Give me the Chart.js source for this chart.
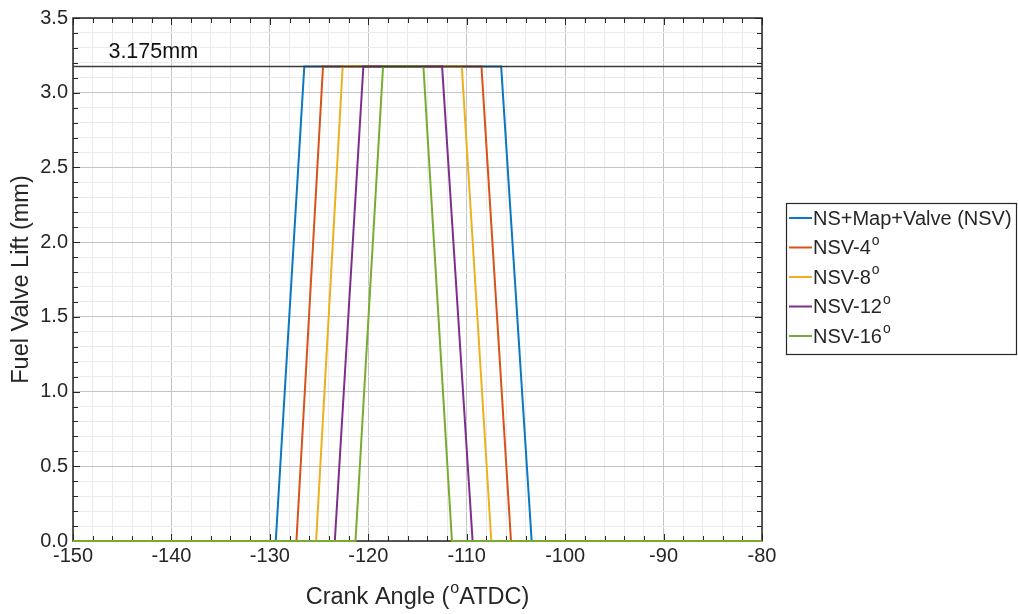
<!DOCTYPE html>
<html>
<head>
<meta charset="utf-8">
<script src="https://cdn.jsdelivr.net/npm/chart.js@4.4.0/dist/chart.umd.min.js"></script>
<style>
  html, body { margin: 0; padding: 0; background: #fff; }
  #wrap { width: 1018px; height: 614px; position: relative; }
</style>
</head>
<body>
<div id="wrap"><canvas id="lift-chart"></canvas></div>
<script>
'use strict';

// series
const seriesLabels = ['NS+Map+Valve (NSV)', 'NSV-4', 'NSV-8', 'NSV-12', 'NSV-16'];
const seriesSup = ['', 'o', 'o', 'o', 'o'];
const seriesColors = ['#0a78c2', '#d95319', '#edb120', '#7e2f8e', '#77ac30'];

// lift (mm) at each breakpoint, shared by all series
const liftValues = [0, 0, 3.175, 3.175, 0, 0];
// crank angle (deg ATDC) of each breakpoint
const nsvAngles = [-150, -129.4, -126.5, -106.5, -103.4, -80];
const nsv4Angles = [-150, -127.3, -124.6, -108.5, -105.5, -80];
const nsv8Angles = [-150, -125.3, -122.6, -110.5, -107.5, -80];
const nsv12Angles = [-150, -123.4, -120.5, -112.5, -109.4, -80];
const nsv16Angles = [-150, -121.3, -118.5, -114.4, -111.5, -80];
const seriesAngles = [nsvAngles, nsv4Angles, nsv8Angles, nsv12Angles, nsv16Angles];

// reference line
const refLift = 3.175;
const refAngles = [-150, -80];
const refLabel = '3.175mm';
const refLabelPos = { x: -146.4, y: 3.27 };

const TEXT = '#262626';
const FONT = '"Liberation Sans", Arial, sans-serif';

function isMultiple(v, step) {
  const q = v / step;
  return Math.abs(q - Math.round(q)) < 1e-6;
}

// text with a small raised "o"
function drawSupText(ctx, parts, x, y, size) {
  ctx.font = size + 'px ' + FONT;
  ctx.textBaseline = 'middle';
  ctx.textAlign = 'left';
  let cx = x;
  ctx.fillText(parts[0], cx, y);
  cx += ctx.measureText(parts[0]).width;
  if (parts[1]) {
    ctx.font = Math.round(size * 0.7) + 'px ' + FONT;
    ctx.fillText(parts[1], cx + 1, y - size * 0.38);
    cx += ctx.measureText(parts[1]).width + 1;
    ctx.font = size + 'px ' + FONT;
  }
  if (parts[2]) ctx.fillText(parts[2], cx, y);
}

function textWidth(ctx, parts, size) {
  ctx.font = size + 'px ' + FONT;
  let w = ctx.measureText(parts[0]).width;
  if (parts[2]) w += ctx.measureText(parts[2]).width;
  if (parts[1]) {
    ctx.font = Math.round(size * 0.7) + 'px ' + FONT;
    w += ctx.measureText(parts[1]).width + 1;
  }
  return w;
}

// box and inward ticks on all four sides, plus label, x title and legend
const axesBox = {
  id: 'axesBox',
  beforeDatasetsDraw(chart) {
    const ctx = chart.ctx;
    const a = chart.chartArea;
    const xs = chart.scales.x;
    const ys = chart.scales.y;
    ctx.save();
    ctx.strokeStyle = TEXT;
    ctx.lineWidth = 1;
    xs.ticks.forEach(function (t) {
      const px = Math.round(xs.getPixelForValue(t.value)) + 0.5;
      const len = isMultiple(t.value, 10) ? 7 : 5;
      ctx.beginPath();
      ctx.moveTo(px, a.bottom); ctx.lineTo(px, a.bottom - len);
      ctx.moveTo(px, a.top); ctx.lineTo(px, a.top + len);
      ctx.stroke();
    });
    ys.ticks.forEach(function (t) {
      const py = Math.round(ys.getPixelForValue(t.value)) + 0.5;
      const len = isMultiple(t.value, 0.5) ? 7 : 5;
      ctx.beginPath();
      ctx.moveTo(a.left, py); ctx.lineTo(a.left + len, py);
      ctx.moveTo(a.right, py); ctx.lineTo(a.right - len, py);
      ctx.stroke();
    });
    ctx.lineWidth = 1.5;
    ctx.strokeRect(a.left, a.top, a.right - a.left, a.bottom - a.top);
    ctx.restore();
  },
  afterDraw(chart) {
    const ctx = chart.ctx;
    const a = chart.chartArea;
    const xs = chart.scales.x;
    const ys = chart.scales.y;
    ctx.save();
    ctx.fillStyle = '#111';
    ctx.font = '21.5px ' + FONT;
    ctx.textBaseline = 'middle';
    ctx.textAlign = 'left';
    ctx.fillText(refLabel, xs.getPixelForValue(refLabelPos.x), ys.getPixelForValue(refLabelPos.y));

    // x axis title
    ctx.fillStyle = TEXT;
    const title = ['Crank Angle (', 'o', 'ATDC)'];
    const w = textWidth(ctx, title, 23.5);
    drawSupText(ctx, title, (a.left + a.right) / 2 - w / 2, 598, 23.5);

    // legend
    const lx = 786, ly = 203, lw = 230, lh = 151;
    ctx.fillStyle = '#fff';
    ctx.fillRect(lx, ly, lw, lh);
    ctx.strokeStyle = TEXT;
    ctx.lineWidth = 1.2;
    ctx.strokeRect(lx + 0.5, ly + 0.5, lw, lh);
    seriesLabels.forEach(function (label, i) {
      const y = ly + 15 + i * 29.5;
      ctx.strokeStyle = seriesColors[i];
      ctx.lineWidth = 2;
      ctx.beginPath();
      ctx.moveTo(lx + 3, y); ctx.lineTo(lx + 26, y);
      ctx.stroke();
      ctx.fillStyle = TEXT;
      drawSupText(ctx, [label, seriesSup[i], ''], lx + 27, y + 1, 20);
    });
    ctx.restore();
  }
};

const datasets = seriesAngles.map(function (angles, i) {
  return {
    label: seriesLabels[i],
    data: angles.map(function (a, k) { return { x: a, y: liftValues[k] }; }),
    borderColor: seriesColors[i],
    borderWidth: 2,
    pointRadius: 0,
    tension: 0,
    fill: false,
    clip: 4,
    order: seriesLabels.length - i + 1,
  };
});
datasets.push({
  label: 'ref',
  data: refAngles.map(function (a) { return { x: a, y: refLift }; }),
  borderColor: '#3a3a3a',
  borderWidth: 1.6,
  pointRadius: 0,
  fill: false,
  order: 0,
});

new Chart(document.getElementById('lift-chart'), {
  type: 'line',
  data: { datasets: datasets },
  options: {
    responsive: true,
    maintainAspectRatio: false,
    animation: false,
    layout: { padding: { left: 0, right: 256, top: 18, bottom: 0 } },
    plugins: {
      legend: { display: false },
      tooltip: { enabled: false },
    },
    scales: {
      x: {
        type: 'linear',
        min: -150,
        max: -80,
        afterFit: function (s) { s.height = 73; },
        border: { display: false },
        grid: {
          drawTicks: false,
          color: function (c) {
            return isMultiple(c.tick.value, 10) ? '#c4c4c4' : '#ebebeb';
          },
        },
        ticks: {
          stepSize: 2,
          autoSkip: false,
          maxRotation: 0,
          padding: 3,
          color: TEXT,
          font: { family: FONT, size: 20 },
          callback: function (v) { return isMultiple(v, 10) ? String(v) : ''; },
        },
      },
      y: {
        min: 0,
        max: 3.5,
        afterFit: function (s) { s.width = 73; },
        border: { display: false },
        grid: {
          drawTicks: false,
          color: function (c) {
            return isMultiple(c.tick.value, 0.5) ? '#c4c4c4' : '#ebebeb';
          },
        },
        ticks: {
          stepSize: 0.1,
          autoSkip: false,
          padding: 5,
          color: TEXT,
          font: { family: FONT, size: 20 },
          callback: function (v) { return isMultiple(v, 0.5) ? Number(v).toFixed(1) : ''; },
        },
        title: {
          display: true,
          text: 'Fuel Valve Lift (mm)',
          color: TEXT,
          font: { family: FONT, size: 23.5 },
          padding: { top: 7, bottom: 0 },
        },
      },
    },
  },
  plugins: [axesBox],
});
</script>
</body>
</html>
